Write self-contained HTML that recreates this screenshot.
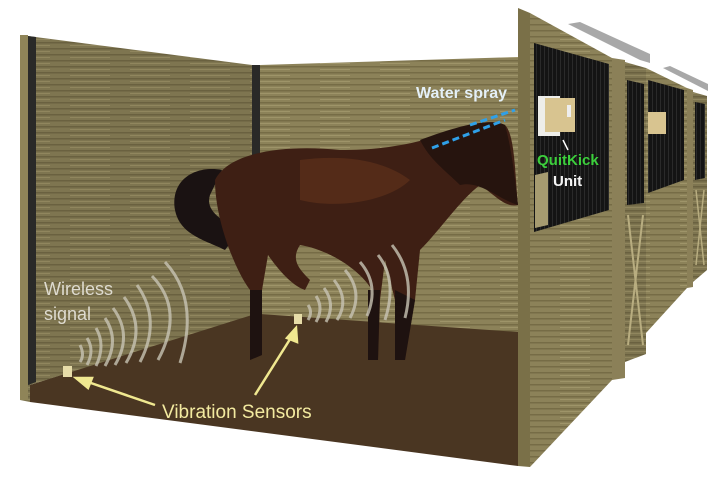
<!DOCTYPE html>
<html><head><meta charset="utf-8"><style>
html,body{margin:0;padding:0;background:#fff;}
svg{display:block}
</style></head><body>
<svg width="718" height="480" viewBox="0 0 718 480" xmlns="http://www.w3.org/2000/svg">
<defs>
<pattern id="wood" width="60" height="6" patternUnits="userSpaceOnUse">
<rect width="60" height="6" fill="#7e7550"/>
<rect y="0" width="60" height="1.5" fill="#6a6140"/>
<rect y="3" x="10" width="40" height="1" fill="#90865e"/>
</pattern>
<pattern id="wood2" width="60" height="6" patternUnits="userSpaceOnUse">
<rect width="60" height="6" fill="#8c8259"/>
<rect y="0" width="60" height="1.5" fill="#766c46"/>
<rect y="3" x="20" width="30" height="1" fill="#9e9469"/>
</pattern>
<pattern id="black" width="4" height="10" patternUnits="userSpaceOnUse">
<rect width="4" height="10" fill="#141414"/><rect width="1" height="10" fill="#2a2a2a"/>
</pattern>
</defs>
<!-- floor -->
<polygon points="30,385 255,312 518,330 518,466 30,402" fill="#4a3622"/>
<!-- left wall -->
<polygon points="20,35 252,65 252,315 30,385 30,402 20,400" fill="url(#wood)"/>
<rect x="20" y="35" width="8" height="365" fill="#8f8458"/>
<polygon points="28,36 36,37 36,382 28,385" fill="#2a2a28"/>
<polygon points="252,65 260,65 260,314 252,316" fill="#2a2a28"/>
<!-- back wall -->
<polygon points="260,65 518,57 518,332 260,314" fill="url(#wood2)"/>
<!-- horse tail -->
<path d="M222,170 C195,165 170,180 175,210 C180,235 205,240 225,250 L240,230 C220,220 205,210 210,195 Z" fill="#1a1212"/>
<!-- horse body -->
<path d="M215,180 C230,150 290,145 340,150 C380,150 410,145 440,135 C470,125 490,118 505,125 C515,135 515,175 518,205 C505,208 495,195 480,185 C460,200 440,230 420,250 L415,300 L405,360 L395,360 L395,300 L385,260 L380,300 L378,360 L368,360 L372,290 C360,270 330,250 300,245 C290,260 300,270 310,280 L305,290 C290,285 275,265 268,255 L262,290 L262,355 L250,360 L250,290 C235,270 215,220 215,180 Z" fill="#3e1f14"/>
<path d="M300,160 C340,155 380,158 410,180 C390,200 340,210 300,200 Z" fill="#5e3019" opacity="0.7"/>
<path d="M420,140 C460,125 490,118 505,125 C512,150 515,180 518,205 C500,200 480,180 460,185 C445,170 430,160 420,140 Z" fill="#26140e"/>
<path d="M250,290 L262,290 L262,355 L250,360 Z M368,290 L380,290 L378,360 L368,360 Z M395,290 L415,300 L405,360 L395,360 Z" fill="#1e1210"/>
<!-- water spray -->
<g stroke="#2fa0e8" stroke-width="3" stroke-dasharray="7,4">
<line x1="432" y1="148" x2="505" y2="120"/>
<line x1="470" y1="125" x2="515" y2="110"/>
</g>
<text x="416" y="98" font-family="Liberation Sans, sans-serif" font-size="16" fill="#e4f0f8" font-weight="bold">Water spray</text>
<!-- signal arcs left -->
<g fill="none" stroke="#c8c4b4" stroke-width="3" opacity="0.8">
<path d="M80,362 Q85,355 80,345"/>
<path d="M87,365 Q95,350 87,338"/>
<path d="M96,366 Q106,345 96,328"/>
<path d="M105,366 Q120,340 105,318"/>
<path d="M115,365 Q133,335 113,308"/>
<path d="M126,363 Q147,328 124,297"/>
<path d="M140,362 Q162,320 137,285"/>
<path d="M158,360 Q185,310 152,276"/>
<path d="M180,363 Q200,300 165,262"/>
</g>
<g fill="none" stroke="#c8c4b4" stroke-width="3" opacity="0.8">
<path d="M308,320 Q313,312 308,305"/>
<path d="M316,322 Q324,308 316,296"/>
<path d="M326,322 Q336,304 324,288"/>
<path d="M337,320 Q350,300 334,280"/>
<path d="M350,318 Q364,292 345,270"/>
<path d="M367,316 Q380,285 360,262"/>
<path d="M385,320 Q398,280 378,255"/>
<path d="M405,318 Q416,275 392,245"/>
</g>
<!-- sensors -->
<rect x="63" y="366" width="9" height="11" fill="#e6dca8"/>
<rect x="294" y="314" width="8" height="10" fill="#e6dca8"/>
<g stroke="#f0e890" stroke-width="2.5" fill="#f0e890">
<line x1="155" y1="405" x2="85" y2="381"/>
<polygon points="76,378 92,378 88,388"/>
<line x1="255" y1="395" x2="292" y2="336"/>
<polygon points="296,328 287,338 297,342"/>
</g>
<text x="44" y="295" font-family="Liberation Sans, sans-serif" font-size="18" fill="#dedbd0">Wireless</text>
<text x="44" y="320" font-family="Liberation Sans, sans-serif" font-size="18" fill="#dedbd0">signal</text>
<text x="162" y="418" font-family="Liberation Sans, sans-serif" font-size="19" fill="#f3eaa0">Vibration Sensors</text>
<!-- right front walls -->
<polygon points="518,8 530,13 530,467 518,466" fill="#7a7048"/>
<polygon points="530,13 612,58 612,380 530,467" fill="url(#wood2)"/>
<polygon points="534,43 609,64 609,210 534,232" fill="url(#black)"/>
<polygon points="612,58 625,60 625,378 612,380" fill="#8b8058"/>
<polygon points="625,62 646,68 646,354 625,362" fill="url(#wood)"/>
<polygon points="627,80 644,84 644,203 627,205" fill="url(#black)"/>
<g stroke="#b8ad80" stroke-width="2"><line x1="628" y1="215" x2="643" y2="345"/><line x1="643" y1="215" x2="628" y2="345"/></g>
<polygon points="646,68 687,88 687,288 646,333" fill="url(#wood2)"/>
<polygon points="648,80 684,90 684,180 648,193" fill="url(#black)"/>
<polygon points="687,88 693,90 693,287 687,288" fill="#8b8058"/>
<polygon points="693,92 707,96 707,270 693,282" fill="url(#wood)"/>
<polygon points="695,102 705,104 705,178 695,180" fill="url(#black)"/>
<g stroke="#b8ad80" stroke-width="1.5"><line x1="696" y1="190" x2="704" y2="265"/><line x1="704" y1="190" x2="696" y2="265"/></g>
<!-- rails -->
<polygon points="568,24 580,22 650,54 650,63 640,60" fill="#a8a8a8"/>
<polygon points="663,68 670,66 708,84 708,91" fill="#a8a8a8"/>
<!-- units -->
<rect x="538" y="96" width="22" height="40" fill="#eeeeea"/>
<rect x="545" y="98" width="30" height="34" fill="#d8c490"/>
<rect x="567" y="105" width="4" height="12" fill="#eee"/>
<rect x="648" y="112" width="18" height="22" fill="#d8c490"/>
<line x1="563" y1="140" x2="568" y2="150" stroke="#fff" stroke-width="1.5"/>
<text x="537" y="165" font-family="Liberation Sans, sans-serif" font-size="15" font-weight="bold" fill="#3ccf3c">QuitKick</text>
<text x="553" y="186" font-family="Liberation Sans, sans-serif" font-size="15" font-weight="bold" fill="#f4f4f4">Unit</text>
<polygon points="535,175 548,172 548,225 535,228" fill="#a69b70"/>
</svg>
</body></html>
